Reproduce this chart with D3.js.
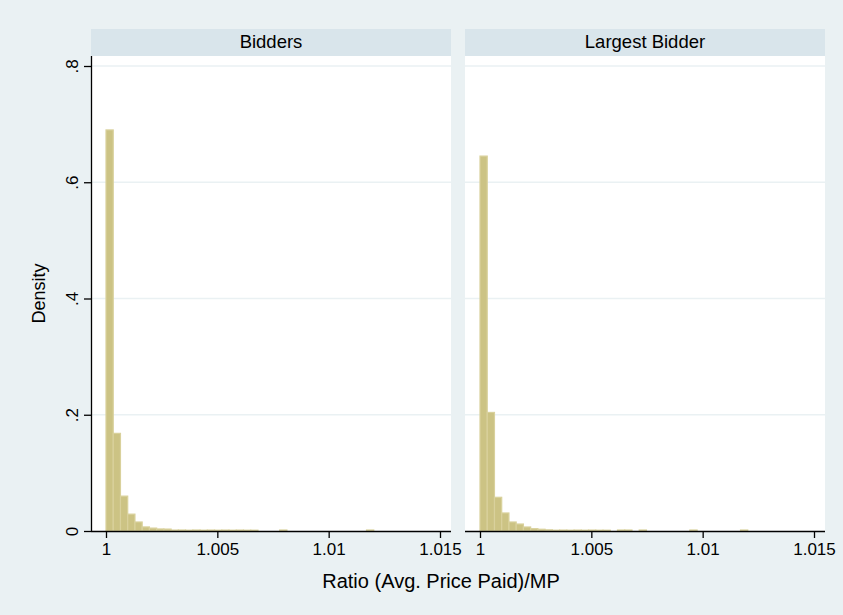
<!DOCTYPE html>
<html>
<head>
<meta charset="utf-8">
<script src="https://cdn.jsdelivr.net/npm/d3@7"></script>
<style>
  body { margin: 0; background: #eaf1f3; }
  text { font-family: "Liberation Sans", Arial, sans-serif; fill: #000; }
</style>
</head>
<body>
<div id="chart"></div>
<script>
const width = 843
const height = 615

// panel titles
const panels = ["Bidders", "Largest Bidder"]

// histogram bins (same bins for both panels)
const binStart = 1.0
const binWidth = 0.000325

// densities per bin
const biddersDensity = [
  0.690, 0.168, 0.060, 0.029, 0.0155, 0.007, 0.005, 0.0035, 0.0033, 0.0016,
  0.0017, 0.0014, 0.0017, 0.0014, 0.0016, 0.0014, 0.0016, 0.0014, 0.0016, 0.0014,
  0.0014, 0, 0, 0, 0.0017, 0, 0, 0, 0, 0,
  0, 0, 0, 0, 0, 0, 0.0017
]
const largestDensity = [
  0.645, 0.204, 0.058, 0.031, 0.0155, 0.012, 0.0069, 0.004, 0.003, 0.002,
  0.0014, 0.0016, 0.0014, 0.0016, 0.0014, 0.0016, 0.0014, 0.0014, 0, 0.0017,
  0.0017, 0, 0.0017, 0, 0, 0, 0, 0, 0, 0.0017,
  0, 0, 0, 0, 0, 0, 0.0017
]

const xTicks = [1, 1.005, 1.01, 1.015]
const xTickLabels = ["1", "1.005", "1.01", "1.015"]
const yTicks = [0, 0.2, 0.4, 0.6, 0.8]
const yTickLabels = ["0", ".2", ".4", ".6", ".8"]

const xTitle = "Ratio (Avg. Price Paid)/MP"
const yTitle = "Density"

const plotTop = 56
const plotBottom = 531
const headerTop = 29
const panelLefts = [91, 465]
const panelWidth = 360

const svg = d3.select("#chart")
  .append("svg")
  .attr("width", width)
  .attr("height", height)

svg.append("rect")
  .attr("width", width)
  .attr("height", height)
  .attr("fill", "#eaf1f3")

const y = d3.scaleLinear()
  .domain([0, 0.8])
  .range([plotBottom, 66])

const series = [biddersDensity, largestDensity]

panels.forEach((name, p) => {
  const left = panelLefts[p]
  const x = d3.scaleLinear()
    .domain([1, 1.015])
    .range([left + 15, left + panelWidth - 11])

  const g = svg.append("g")

  // header strip
  g.append("rect")
    .attr("x", left)
    .attr("y", headerTop)
    .attr("width", panelWidth)
    .attr("height", plotTop - headerTop)
    .attr("fill", "#d9e5eb")

  g.append("text")
    .attr("x", left + panelWidth / 2)
    .attr("y", 48)
    .attr("text-anchor", "middle")
    .style("font-size", "18.5px")
    .text(name)

  // plot region
  g.append("rect")
    .attr("x", left)
    .attr("y", plotTop)
    .attr("width", panelWidth)
    .attr("height", plotBottom - plotTop)
    .attr("fill", "#fff")

  // gridlines
  g.selectAll("line.grid")
    .data(yTicks.slice(1))
    .join("line")
      .attr("class", "grid")
      .attr("x1", left)
      .attr("x2", left + panelWidth)
      .attr("y1", d => y(d))
      .attr("y2", d => y(d))
      .attr("stroke", "#eaf1f3")
      .attr("stroke-width", 1.3)

  // bars
  const bins = series[p].map((v, i) => ({
    x0: binStart + i * binWidth,
    x1: binStart + (i + 1) * binWidth,
    v: v
  })).filter(d => d.v > 0)

  g.selectAll("rect.bar")
    .data(bins)
    .join("rect")
      .attr("class", "bar")
      .attr("x", d => x(d.x0))
      .attr("y", d => y(d.v))
      .attr("width", d => x(d.x1) - x(d.x0))
      .attr("height", d => y(0) - y(d.v))
      .attr("fill", "#ccc384")
      .attr("stroke", "#d9d19c")
      .attr("stroke-width", 1.2)

  // x axis
  const xAxis = d3.axisBottom(x)
    .tickValues(xTicks)
    .tickFormat((d, i) => xTickLabels[i])
    .tickSize(7)
    .tickPadding(5)
    .tickSizeOuter(0)

  const ax = g.append("g")
    .attr("transform", `translate(0,${plotBottom})`)
    .call(xAxis)
  ax.select(".domain")
    .attr("d", `M${left},0.5H${left + panelWidth}`)
    .attr("stroke", "#000")
    .attr("stroke-width", 1.3)
  ax.selectAll(".tick line").attr("stroke", "#000").attr("stroke-width", 1.3)
  ax.selectAll(".tick text")
    .style("font-size", "17px")
    .style("font-family", "'Liberation Sans', Arial, sans-serif")

  // y axis only on the first panel
  if (p === 0) {
    const yAxis = d3.axisLeft(y)
      .tickValues(yTicks)
      .tickFormat((d, i) => yTickLabels[i])
      .tickSize(7)
      .tickPadding(6)
      .tickSizeOuter(0)

    const ay = g.append("g")
      .attr("transform", `translate(${left},0)`)
      .call(yAxis)
    ay.select(".domain")
      .attr("d", `M0.5,${plotTop}V${plotBottom}`)
      .attr("stroke", "#000")
      .attr("stroke-width", 1.3)
    ay.selectAll(".tick line").attr("stroke", "#000").attr("stroke-width", 1.3)
    ay.selectAll(".tick text")
      .attr("dy", 0)
      .attr("transform", "rotate(-90)")
      .attr("text-anchor", "middle")
      .attr("y", -13)
      .attr("x", 0)
      .style("font-size", "17px")
      .style("font-family", "'Liberation Sans', Arial, sans-serif")
  }
})

// axis titles
svg.append("text")
  .attr("x", 441)
  .attr("y", 588)
  .attr("text-anchor", "middle")
  .style("font-size", "20px")
  .text(xTitle)

svg.append("text")
  .attr("transform", `translate(45,${(plotTop + plotBottom) / 2}) rotate(-90)`)
  .attr("text-anchor", "middle")
  .style("font-size", "18px")
  .text(yTitle)
</script>
</body>
</html>
